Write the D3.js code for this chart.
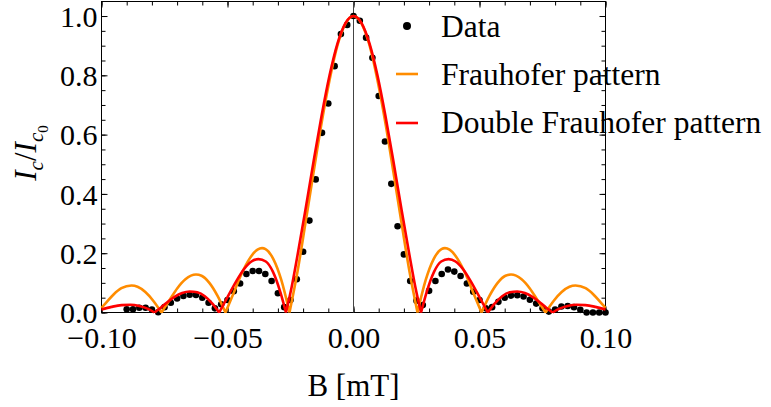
<!DOCTYPE html>
<html>
<head>
<meta charset="utf-8">
<script src="https://cdn.jsdelivr.net/npm/d3@7"></script>
<style>
  html, body { margin: 0; padding: 0; background: #fff; }
  svg text { font-family: "Liberation Serif", "Times New Roman", serif; fill: #000; }
</style>
</head>
<body>
<div id="container"></div>
<script>
// measured points (B in mT, Ic/Ic0)
var dataB = [
  -0.09, -0.0875, -0.085, -0.0825, -0.08, -0.0775, -0.075, -0.0725, -0.07, -0.0675,
  -0.065, -0.0625, -0.06, -0.0575, -0.055, -0.0525, -0.05, -0.0475, -0.045, -0.0425,
  -0.04, -0.0375, -0.035, -0.0325, -0.03, -0.0275, -0.025, -0.0225, -0.02, -0.0175,
  -0.015, -0.0125, -0.01, -0.0075, -0.005, -0.0025,
  0, 0.0025, 0.005, 0.0075, 0.01, 0.0125, 0.015, 0.0175, 0.02, 0.0225,
  0.025, 0.0275, 0.03, 0.0325, 0.035, 0.0375, 0.04, 0.0425, 0.045, 0.0475,
  0.05, 0.0525, 0.055, 0.0575, 0.06, 0.0625, 0.065, 0.0675, 0.07, 0.0725,
  0.075, 0.0775, 0.08, 0.0825, 0.085, 0.0875, 0.09, 0.0925, 0.095, 0.0975, 0.1
]
var dataI = [
  0.011, 0.011, 0.016, 0.016, 0.010, 0.001, 0.018, 0.033, 0.047, 0.056,
  0.060, 0.059, 0.050, 0.033, 0.014, 0.028, 0.042, 0.072, 0.098, 0.130,
  0.140, 0.140, 0.130, 0.106, 0.065, 0.018, 0.042, 0.112, 0.205, 0.310,
  0.449, 0.606, 0.705, 0.831, 0.939, 0.970,
  1.000, 0.984, 0.927, 0.859, 0.730, 0.577, 0.434, 0.291, 0.196, 0.106,
  0.040, 0.025, 0.073, 0.106, 0.130, 0.145, 0.138, 0.123, 0.098, 0.070,
  0.042, 0.014, 0.018, 0.036, 0.050, 0.057, 0.058, 0.054, 0.043, 0.030,
  0.014, 0.003, 0.010, 0.020, 0.022, 0.018, 0.009, 0.000, 0.000, 0.000, 0.000
]

// Frauhofer pattern curve
var fraunB = [
  -0.1, -0.0984, -0.0953, -0.0921, -0.0881, -0.0857, -0.0826, -0.0794, -0.0762,
  -0.073, -0.0699, -0.0667, -0.0625, -0.0603, -0.0572, -0.054, -0.0508,
  -0.0476, -0.0445, -0.0413, -0.0381, -0.0363, -0.0349, -0.0318, -0.0286, -0.0254,
  -0.0222, -0.0191, -0.0159, -0.0127, -0.0095, -0.0064, -0.0032,
  0, 0.0032, 0.0064, 0.0095, 0.0127, 0.0159, 0.0191, 0.0222,
  0.0254, 0.0286, 0.0318, 0.0349, 0.0363, 0.0381, 0.0413, 0.0445, 0.0476,
  0.0508, 0.054, 0.0572, 0.0603, 0.0625, 0.0667, 0.0699, 0.073,
  0.0762, 0.0794, 0.0826, 0.0857, 0.0881, 0.0921, 0.0953, 0.0984, 0.1
]
var fraunI = [
  0.016, 0.031, 0.060, 0.082, 0.091, 0.087, 0.069, 0.039, 0,
  0.042, 0.082, 0.112, 0.128, 0.124, 0.100, 0.057, 0,
  0.065, 0.129, 0.181, 0.212, 0.217, 0.214, 0.180, 0.108, 0,
  0.139, 0.300, 0.470, 0.637, 0.784, 0.900, 0.974,
  1.000, 0.974, 0.900, 0.784, 0.637, 0.470, 0.300, 0.139,
  0, 0.108, 0.180, 0.214, 0.217, 0.212, 0.181, 0.129, 0.065,
  0, 0.057, 0.100, 0.124, 0.128, 0.112, 0.082, 0.042,
  0, 0.039, 0.069, 0.087, 0.091, 0.082, 0.060, 0.031, 0.016
]

// Double Frauhofer pattern curve
var doubleB = [
  -0.1, -0.096, -0.092, -0.0885, -0.085, -0.082, -0.079,
  -0.0765, -0.074, -0.071, -0.068, -0.065, -0.062, -0.059, -0.056, -0.0533,
  -0.05, -0.0465, -0.0435, -0.0405, -0.0377, -0.0348, -0.032, -0.029, -0.0268,
  -0.0245, -0.0222, -0.0191, -0.0159, -0.0127, -0.0095, -0.0064, -0.0032,
  0, 0.0032, 0.0064, 0.0095, 0.0127, 0.0159, 0.0191, 0.0222, 0.0245,
  0.0268, 0.029, 0.032, 0.0348, 0.0377, 0.0405, 0.0435, 0.0465, 0.05,
  0.0533, 0.056, 0.059, 0.062, 0.065, 0.068, 0.071, 0.074, 0.0765,
  0.079, 0.082, 0.085, 0.0885, 0.092, 0.096, 0.1
]
var doubleI = [
  0.010, 0.019, 0.025, 0.026, 0.022, 0.014, 0,
  0.016, 0.034, 0.053, 0.066, 0.071, 0.068, 0.055, 0.030, 0,
  0.052, 0.106, 0.146, 0.172, 0.180, 0.172, 0.138, 0.068, 0,
  0.088, 0.194, 0.345, 0.507, 0.662, 0.800, 0.906, 0.976,
  1.000, 0.976, 0.906, 0.800, 0.662, 0.507, 0.345, 0.194, 0.088,
  0, 0.068, 0.138, 0.172, 0.180, 0.172, 0.146, 0.106, 0.052,
  0, 0.030, 0.055, 0.068, 0.071, 0.066, 0.053, 0.034, 0.016,
  0, 0.014, 0.022, 0.026, 0.025, 0.019, 0.010
]

var xMajor = [-0.1, -0.05, 0, 0.05, 0.1]
var yMajor = [0, 0.2, 0.4, 0.6, 0.8, 1.0]
var legendLabels = ['Data', 'Frauhofer pattern', 'Double Frauhofer pattern']

var width = 771
var height = 407
var orange = '#ff8c00'
var red = '#ff0000'

var svg = d3.select('#container').append('svg')
  .attr('width', width)
  .attr('height', height)

var x = d3.scaleLinear().domain([-0.1, 0.1]).range([101.5, 605.5])
var y = d3.scaleLinear().domain([0, 1.049]).range([312.5, 1.5])

var xMinor = d3.range(-10, 11).map(function (k) { return k / 100 })
var yMinor = d3.range(0, 21).map(function (k) { return k / 20 })
var fmtX = d3.format('.2f')
var fmtY = d3.format('.1f')

// ticks, all pointing inward
function addAxis (axis, transform) {
  var g = svg.append('g').attr('transform', transform).call(axis)
  g.select('.domain').remove()
  g.selectAll('line').attr('stroke', '#000').attr('stroke-width', 1)
  g.selectAll('text').attr('font-size', 30).attr('font-family', null).attr('fill', '#000')
  return g
}

addAxis(d3.axisBottom(x).tickValues(xMinor).tickSize(-4).tickFormat(''), 'translate(0,312.5)')
addAxis(d3.axisTop(x).tickValues(xMinor).tickSize(-4).tickFormat(''), 'translate(0,1.5)')
addAxis(d3.axisBottom(x).tickValues(xMajor).tickSize(-6).tickPadding(14).tickFormat(fmtX), 'translate(0,312.5)')
addAxis(d3.axisTop(x).tickValues(xMajor).tickSize(-6).tickFormat(''), 'translate(0,1.5)')

addAxis(d3.axisLeft(y).tickValues(yMinor).tickSize(-4).tickFormat(''), 'translate(101.5,0)')
addAxis(d3.axisRight(y).tickValues(yMinor).tickSize(-4).tickFormat(''), 'translate(605.5,0)')
var yAx = addAxis(d3.axisLeft(y).tickValues(yMajor).tickSize(-6).tickPadding(4).tickFormat(fmtY), 'translate(101.5,0)')
yAx.selectAll('text').attr('dy', '0.34em')
addAxis(d3.axisRight(y).tickValues(yMajor).tickSize(-6).tickFormat(''), 'translate(605.5,0)')

// frame
svg.append('rect')
  .attr('x', x(-0.1)).attr('y', y(1.049))
  .attr('width', x(0.1) - x(-0.1)).attr('height', y(0) - y(1.049))
  .attr('fill', 'none').attr('stroke', '#000').attr('stroke-width', 1)

// zero line
svg.append('line')
  .attr('x1', x(0)).attr('x2', x(0))
  .attr('y1', y(1.049)).attr('y2', y(0))
  .attr('stroke', '#444').attr('stroke-width', 1)

var plot = svg.append('g')

plot.selectAll('circle.pt')
  .data(dataB.map(function (b, i) { return [b, dataI[i]] }))
  .enter().append('circle')
  .attr('class', 'pt')
  .attr('cx', function (d) { return x(d[0]) })
  .attr('cy', function (d) { return y(d[1]) })
  .attr('r', 3.3)
  .attr('fill', '#000')

// split a curve at its zeros so each lobe ends in a sharp cusp
function lobes (bs, is) {
  var segs = []
  var cur = []
  bs.forEach(function (b, i) {
    var p = [b, is[i]]
    cur.push(p)
    if (p[1] === 0 && cur.length > 1) { segs.push(cur); cur = [p] }
  })
  if (cur.length > 1) segs.push(cur)
  return segs
}

var line = d3.line()
  .x(function (d) { return x(d[0]) })
  .y(function (d) { return y(d[1]) })
  .curve(d3.curveMonotoneX)

function drawCurve (bs, is, colour) {
  plot.append('path')
    .attr('d', lobes(bs, is).map(function (s) { return line(s) }).join(''))
    .attr('fill', 'none')
    .attr('stroke', colour)
    .attr('stroke-width', 2.6)
}

drawCurve(fraunB, fraunI, orange)
drawCurve(doubleB, doubleI, red)

// legend
var legend = svg.append('g')
legend.append('circle').attr('cx', 407).attr('cy', 26).attr('r', 4).attr('fill', '#000')
legend.append('line').attr('x1', 396).attr('x2', 418).attr('y1', 74).attr('y2', 74)
  .attr('stroke', orange).attr('stroke-width', 2.6)
legend.append('line').attr('x1', 396).attr('x2', 418).attr('y1', 123).attr('y2', 123)
  .attr('stroke', red).attr('stroke-width', 2.6)
legend.selectAll('text')
  .data(legendLabels)
  .enter().append('text')
  .attr('x', 441)
  .attr('y', function (d, i) { return 37 + i * 48 })
  .attr('font-size', 31.5)
  .text(function (d) { return d })

// axis titles
svg.append('text')
  .attr('x', x(0)).attr('y', 396)
  .attr('text-anchor', 'middle')
  .attr('font-size', 31)
  .text('B [mT]')

var yl = svg.append('text')
  .attr('transform', 'translate(36,153) rotate(-90)')
  .attr('text-anchor', 'middle')
  .attr('font-size', 31)
yl.append('tspan').attr('font-style', 'italic').text('I')
yl.append('tspan').attr('font-style', 'italic').attr('font-size', 21).attr('dy', 7).text('c')
yl.append('tspan').attr('dy', -7).text('/')
yl.append('tspan').attr('font-style', 'italic').text('I')
yl.append('tspan').attr('font-style', 'italic').attr('font-size', 21).attr('dy', 7).text('c')
yl.append('tspan').attr('font-size', 15).attr('dy', 5).text('0')
</script>
</body>
</html>
